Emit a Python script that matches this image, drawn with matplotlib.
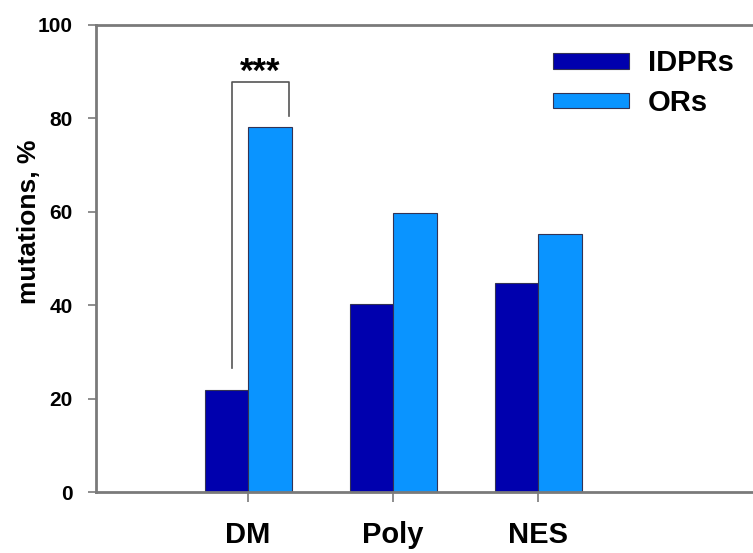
import numpy as np
import matplotlib.pyplot as plt

plt.rcParams['font.family'] = ['Liberation Sans', 'DejaVu Sans']
plt.rcParams['font.weight'] = 'bold'

categories = ['DM', 'Poly', 'NES']
idprs = [21.8, 40.3, 44.8]
ors = [78.2, 59.7, 55.2]
y_ticks = [0, 20, 40, 60, 80, 100]

DARK = '#0000AE'
LIGHT = '#0A94FF'
AXIS_GREY = '#7a7a7a'

fig = plt.figure(figsize=(7.53, 5.53), dpi=100)
ax = fig.add_axes([0.1275, 0.1103, 0.8725, 0.8445])

x = np.arange(1, len(categories) + 1)
w = 0.30
ax.bar(x - w / 2, idprs, w, color=DARK, edgecolor='#333355', linewidth=0.8, label='IDPRs')
ax.bar(x + w / 2, ors, w, color=LIGHT, edgecolor='#333355', linewidth=0.8, label='ORs')

ax.set_xlim(-0.048, 4.48)
ax.set_ylim(0, 100)
ax.set_xticks(x)
ax.set_xticklabels(categories, fontsize=21, fontweight='bold')
ax.set_yticks(y_ticks)
ax.set_yticklabels([str(t) for t in y_ticks], fontsize=15, fontweight='bold')
ax.tick_params(axis='y', length=6, width=1.2, color=AXIS_GREY, pad=11)
ax.tick_params(axis='x', length=7, width=1.2, color=AXIS_GREY, pad=14)
ax.set_ylabel('mutations, %', fontsize=19, fontweight='bold')
ax.yaxis.set_label_coords(-0.084, 0.578)

for side in ['left', 'bottom', 'top']:
    ax.spines[side].set_color(AXIS_GREY)
    ax.spines[side].set_linewidth(2)
ax.spines['right'].set_visible(False)

# significance bracket between DM bars
bx0, bx1 = 0.888, 1.283
ax.plot([bx0, bx0, bx1, bx1], [26.5, 87.9, 87.9, 80.5], color='#555555', linewidth=1.2)
ax.text((bx0 + bx1) / 2, 86.3, '***', ha='center', va='bottom', fontsize=25, fontweight='bold')

leg = ax.legend(loc='upper left', bbox_to_anchor=(0.6956, 0.948), frameon=False, fontsize=21,
                borderpad=0, borderaxespad=0,
                handlelength=2.6, handleheight=0.45, handletextpad=0.65, labelspacing=0.40)
for t in leg.get_texts():
    t.set_fontweight('bold')

fig.savefig('out.png', dpi=100)
